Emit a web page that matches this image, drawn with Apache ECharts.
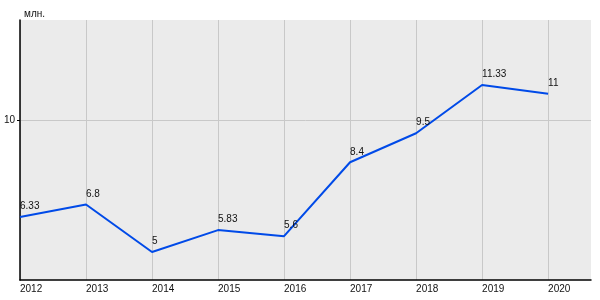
<!DOCTYPE html>
<html>
<head>
<meta charset="utf-8">
<script src="https://cdn.jsdelivr.net/npm/echarts@6/dist/echarts.min.js"></script>
<style>html,body{margin:0;padding:0;background:#fff}#c{width:600px;height:300px}</style>
</head>
<body>
<div id="c"></div>
<script>
const years = [2012, 2013, 2014, 2015, 2016, 2017, 2018, 2019, 2020];
const values = [6.33, 6.8, 5, 5.83, 5.6, 8.4, 9.5, 11.33, 11];
const yTicks = [10];
const unitLabel = 'млн.';

const chart = echarts.init(document.getElementById('c'));
const font = 'Liberation Sans, Arial, sans-serif';
chart.setOption({
  animation: false,
  textStyle: { fontFamily: font },
  title: {
    text: unitLabel, left: 19, top: 4,
    textStyle: { fontSize: 10, fontWeight: 'normal', color: '#111', fontFamily: font }
  },
  grid: { left: 20, right: 9, top: 20, bottom: 20, show: true, backgroundColor: '#ebebeb', borderWidth: 0 },
  xAxis: {
    type: 'value', min: 2012, max: 2020.65,
    axisLine: { lineStyle: { color: '#000', width: 1.5 } },
    axisTick: { show: false, customValues: years },
    axisLabel: {
      fontSize: 10, color: '#111', align: 'left', margin: 4,
      customValues: years,
      formatter: v => String(v)
    },
    splitLine: { show: true, lineStyle: { color: '#c8c8c8', width: 1 } }
  },
  yAxis: {
    type: 'value', min: 3.94, max: 13.79,
    axisLine: { show: true, lineStyle: { color: '#000', width: 1.5 } },
    axisTick: { show: true, length: 3, lineStyle: { color: '#000' }, customValues: yTicks },
    axisLabel: {
      fontSize: 10, color: '#111', margin: 5,
      customValues: yTicks
    },
    splitLine: { show: true, lineStyle: { color: '#c8c8c8', width: 1 } }
  },
  series: [{
    type: 'line',
    data: years.map((y, i) => [y, values[i]]),
    symbol: 'circle', symbolSize: 1, showSymbol: true,
    itemStyle: { color: 'rgba(0,0,0,0)' },
    lineStyle: { color: '#004ae8', width: 2 },
    labelLayout: { hideOverlap: false },
    label: {
      show: true, position: 'top', align: 'left', distance: 5,
      fontSize: 10, color: '#111', fontFamily: font,
      formatter: p => String(p.value[1])
    }
  }]
});
</script>
</body>
</html>
